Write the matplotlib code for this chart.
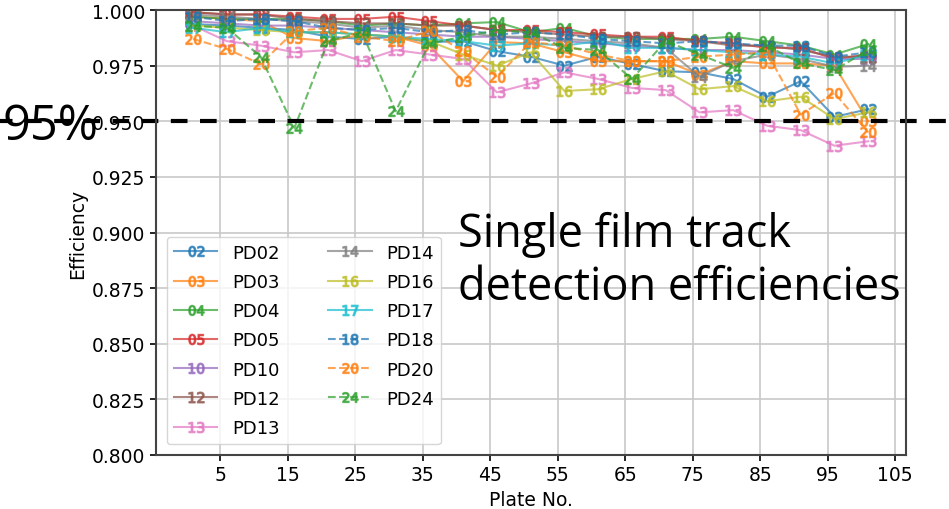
import matplotlib
matplotlib.use("Agg")
import matplotlib.pyplot as plt
import matplotlib.transforms as mtransforms

plates = [1, 6, 11, 16, 21, 26, 31, 36, 41, 46, 51, 56, 61, 66, 71, 76, 81, 86, 91, 96, 101]

pd02 = [0.9937, 0.993, 0.992, 0.991, 0.988, 0.987, 0.988, 0.9856, 0.986, 0.9815, 0.979,
        0.975, 0.979, 0.9757, 0.9725, 0.972, 0.969, 0.961, 0.968, 0.952, 0.9554]
pd03 = [0.997, 0.996, 0.995, 0.9874, 0.986, 0.989, 0.988, 0.984, 0.968, 0.9856, 0.985,
        0.981, 0.977, 0.977, 0.977, 0.971, 0.977, 0.976, 0.976, 0.975, 0.950]
pd04 = [0.997, 0.996, 0.996, 0.996, 0.995, 0.993, 0.994, 0.993, 0.994, 0.9946, 0.990,
        0.992, 0.988, 0.987, 0.987, 0.987, 0.988, 0.986, 0.984, 0.980, 0.9847]
pd05 = [0.999, 0.998, 0.998, 0.997, 0.996, 0.996, 0.997, 0.995, 0.993, 0.991, 0.991,
        0.990, 0.989, 0.988, 0.988, 0.986, 0.985, 0.983, 0.983, 0.978, 0.980]
pd10 = [0.995, 0.994, 0.993, 0.993, 0.992, 0.991, 0.990, 0.989, 0.988, 0.988, 0.987,
        0.986, 0.985, 0.984, 0.983, 0.982, 0.982, 0.981, 0.980, 0.978, 0.978]
pd12 = [0.999, 0.998, 0.998, 0.996, 0.995, 0.994, 0.994, 0.993, 0.993, 0.991, 0.990,
        0.989, 0.988, 0.988, 0.987, 0.986, 0.984, 0.984, 0.982, 0.979, 0.979]
pd13 = [0.993, 0.986, 0.984, 0.981, 0.982, 0.977, 0.982, 0.980, 0.978, 0.963, 0.967,
        0.972, 0.969, 0.965, 0.964, 0.954, 0.955, 0.948, 0.946, 0.939, 0.941]
pd14 = [0.998, 0.997, 0.996, 0.995, 0.994, 0.992, 0.993, 0.991, 0.990, 0.988, 0.988,
        0.987, 0.986, 0.985, 0.983, 0.970, 0.977, 0.980, 0.978, 0.9745, 0.975]
pd16 = [0.993, 0.992, 0.991, 0.990, 0.990, 0.989, 0.988, 0.986, 0.980, 0.975, 0.981,
        0.9636, 0.9644, 0.969, 0.9725, 0.9644, 0.9658, 0.959, 0.961, 0.951, 0.954]
pd17 = [0.992, 0.990, 0.992, 0.990, 0.990, 0.989, 0.988, 0.987, 0.986, 0.984, 0.985,
        0.984, 0.986, 0.983, 0.983, 0.982, 0.981, 0.980, 0.979, 0.976, 0.980]
pd18 = [0.997, 0.995, 0.996, 0.995, 0.992, 0.991, 0.992, 0.990, 0.991, 0.989, 0.990,
        0.989, 0.987, 0.986, 0.985, 0.986, 0.985, 0.984, 0.984, 0.979, 0.981]
pd20 = [0.987, 0.9825, 0.9757, 0.9905, 0.992, 0.988, 0.986, 0.9905, 0.9815, 0.970, 0.9856,
        0.984, 0.980, 0.977, 0.977, 0.979, 0.980, 0.981, 0.953, 0.9627, 0.945]
pd24 = [0.993, 0.992, 0.979, 0.947, 0.986, 0.990, 0.9545, 0.985, 0.988, 0.991, 0.990,
        0.983, 0.982, 0.969, 0.986, 0.980, 0.974, 0.984, 0.976, 0.973, 0.982]

series = [("02", pd02, "-"), ("03", pd03, "-"), ("04", pd04, "-"), ("05", pd05, "-"),
          ("10", pd10, "-"), ("12", pd12, "-"), ("13", pd13, "-"), ("14", pd14, "-"),
          ("16", pd16, "-"), ("17", pd17, "-"), ("18", pd18, "--"), ("20", pd20, "--"),
          ("24", pd24, "--")]

fig = plt.figure(figsize=(9.49, 5.10), dpi=100)
ax = fig.add_axes([0.1644, 0.1059, 0.7903, 0.8725])

for name, vals, ls in series:
    ax.plot(plates, vals, linestyle=ls, marker="$%s$" % name, markersize=11,
            linewidth=1.5, alpha=0.7, label="PD" + name)

ax.set_xlim(-4.5, 106.6)
ax.set_ylim(0.8, 1.0)
ax.set_xticks(range(5, 106, 10))
ax.tick_params(labelsize=13.5, width=1.2, length=4)
ax.set_xlabel("Plate No.", fontsize=13.5)
ax.set_ylabel("Efficiency", fontsize=13.5)
ax.grid(True, color="#c8c8c8", linewidth=1.2)
for sp in ax.spines.values():
    sp.set_linewidth(1.5)
    sp.set_color("#444444")
ax.legend(ncol=2, loc="lower left", fontsize=13, handlelength=2.4,
          columnspacing=2.7, labelspacing=0.62, borderaxespad=0.6)

# threshold line across the whole figure
blend = mtransforms.blended_transform_factory(fig.transFigure, ax.transData)
ax.plot([0, 1], [0.95, 0.95], transform=blend, clip_on=False, color="black",
        linewidth=3, linestyle=(1, (4, 3)))

fig.text(0.003, 1 - 140 / 510, "95%", fontsize=35, family="Open Sans", va="baseline")
fig.text(458 / 949, 1 - 247 / 510, "Single film track", fontsize=32.5,
         family="Open Sans", va="baseline")
fig.text(458 / 949, 1 - 300 / 510, "detection efficiencies", fontsize=32.5,
         family="Open Sans", va="baseline")

plt.savefig("out.png", facecolor="white")
